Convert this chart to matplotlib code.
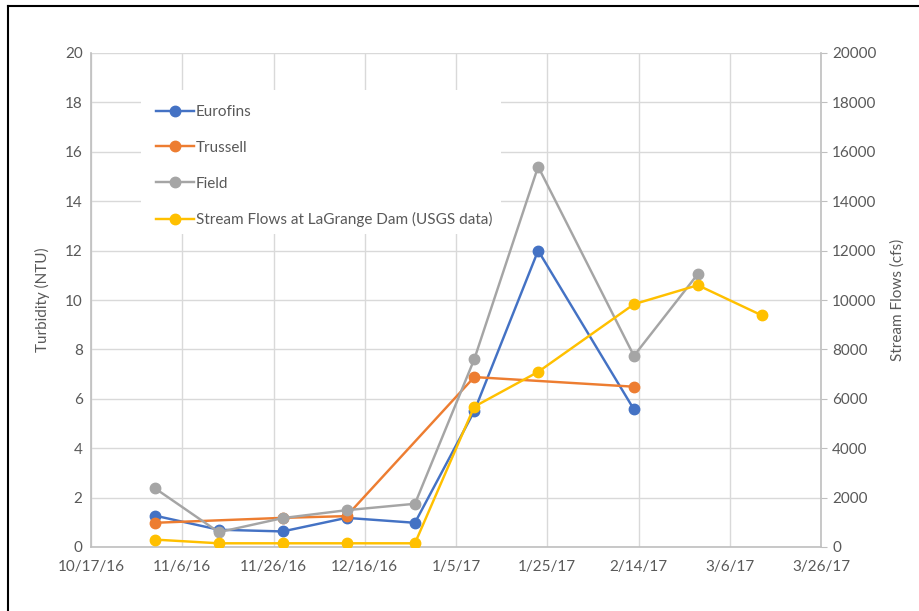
import datetime as dt
import matplotlib
matplotlib.use("Agg")
import matplotlib.pyplot as plt
from matplotlib.lines import Line2D
from matplotlib.patches import Rectangle

plt.rcParams['font.family'] = ['Lato', 'DejaVu Sans']

# Sampling dates and measurements
eurofins_dates = ["2016-10-31", "2016-11-14", "2016-11-28", "2016-12-12", "2016-12-27",
                  "2017-01-09", "2017-01-23", "2017-02-13"]
eurofins_ntu = [1.27, 0.70, 0.63, 1.18, 0.98, 5.5, 12.0, 5.57]

trussell_dates = ["2016-10-31", "2016-11-28", "2016-12-12", "2017-01-09", "2017-02-13"]
trussell_ntu = [0.98, 1.18, 1.25, 6.88, 6.49]

field_dates = ["2016-10-31", "2016-11-14", "2016-11-28", "2016-12-12", "2016-12-27",
               "2017-01-09", "2017-01-23", "2017-02-13", "2017-02-27"]
field_ntu = [2.38, 0.60, 1.17, 1.49, 1.75, 7.6, 15.4, 7.74, 11.05]

flow_dates = ["2016-10-31", "2016-11-14", "2016-11-28", "2016-12-12", "2016-12-27",
              "2017-01-09", "2017-01-23", "2017-02-13", "2017-02-27", "2017-03-13"]
flow_cfs = [300, 150, 150, 150, 150, 5680, 7090, 9830, 10600, 9380]

x_start, x_end = "2016-10-17", "2017-03-26"

def to_dates(values):
    return [dt.datetime.strptime(v, "%Y-%m-%d") for v in values]

W, H = 919, 611
fig = plt.figure(figsize=(W / 100, H / 100), dpi=100)

# Outer frame (left and top edges)
fig.add_artist(Line2D([8 / W, 8 / W], [0, 1 - 6 / H], transform=fig.transFigure,
                      color="black", lw=1.5))
fig.add_artist(Line2D([8 / W, 1], [1 - 6 / H, 1 - 6 / H], transform=fig.transFigure,
                      color="black", lw=1.5))

left, right, top, bottom = 91, 821, 53, 547
ax = fig.add_axes([left / W, 1 - bottom / H, (right - left) / W, (bottom - top) / H])
ax2 = ax.twinx()

text_color = "#595959"
grid_color = "#D9D9D9"
axis_color = "#BFBFBF"
fs = 11

blue, orange, gray, gold = "#4472C4", "#ED7D31", "#A5A5A5", "#FFC000"
lw, ms = 1.75, 7.5

h1, = ax.plot(to_dates(eurofins_dates), eurofins_ntu, color=blue, lw=lw, marker="o",
              ms=ms, label="Eurofins", zorder=3)
h2, = ax.plot(to_dates(trussell_dates), trussell_ntu, color=orange, lw=lw, marker="o",
              ms=ms, label="Trussell", zorder=4)
h3, = ax.plot(to_dates(field_dates), field_ntu, color=gray, lw=lw, marker="o",
              ms=ms, label="Field", zorder=5)
h4, = ax2.plot(to_dates(flow_dates), flow_cfs, color=gold, lw=lw, marker="o",
               ms=ms, label="Stream Flows at LaGrange Dam (USGS data)", zorder=3)

x0 = dt.datetime.strptime(x_start, "%Y-%m-%d")
x1 = dt.datetime.strptime(x_end, "%Y-%m-%d")
ax.set_xlim(x0, x1)
ticks = [x0 + dt.timedelta(days=20 * i) for i in range(9)]
ax.set_xticks(ticks)
ax.set_xticklabels([f"{d.month}/{d.day}/{d.strftime('%y')}" for d in ticks])

ax.set_ylim(0, 20)
ax.set_yticks(range(0, 21, 2))
ax2.set_ylim(0, 20000)
ax2.set_yticks(range(0, 20001, 2000))

ax.grid(True, color=grid_color, lw=1.0)
ax.set_axisbelow(True)

for a in (ax, ax2):
    for s in a.spines.values():
        s.set_visible(False)
ax.spines["left"].set_visible(True)
ax.spines["left"].set_color(axis_color)
ax.spines["left"].set_linewidth(1.2)
ax.spines["bottom"].set_visible(True)
ax.spines["bottom"].set_color(axis_color)
ax.spines["bottom"].set_linewidth(1.2)
ax2.spines["right"].set_visible(True)
ax2.spines["right"].set_color(axis_color)
ax2.spines["right"].set_linewidth(1.2)

ax.tick_params(axis="both", length=0, labelsize=fs, labelcolor=text_color, pad=6)
ax.tick_params(axis="x", pad=9)
ax2.tick_params(axis="y", length=4, color=axis_color, labelsize=fs,
                labelcolor=text_color, pad=4)

ax.set_ylabel("Turbidity (NTU)", fontsize=fs, color=text_color, labelpad=11)
ax2.set_ylabel("Stream Flows (cfs)", fontsize=fs, color=text_color, labelpad=10)

# Legend with a white panel that hides the gridlines behind it
ax2.add_patch(Rectangle((141 / W, 1 - 234 / H), (501 - 141) / W, (234 - 90) / H,
                        transform=fig.transFigure, facecolor="white",
                        edgecolor="none", zorder=2))
leg = ax2.legend(handles=[h1, h2, h3, h4], loc="upper left",
                 bbox_to_anchor=((150 - left) / (right - left), 1 - (99 - top) / (bottom - top)),
                 frameon=False, fontsize=fs, labelcolor=text_color,
                 handlelength=2.5, handletextpad=0.1, labelspacing=1.42,
                 borderaxespad=0)
leg.set_zorder(6)

fig.savefig("out.png", dpi=100)
